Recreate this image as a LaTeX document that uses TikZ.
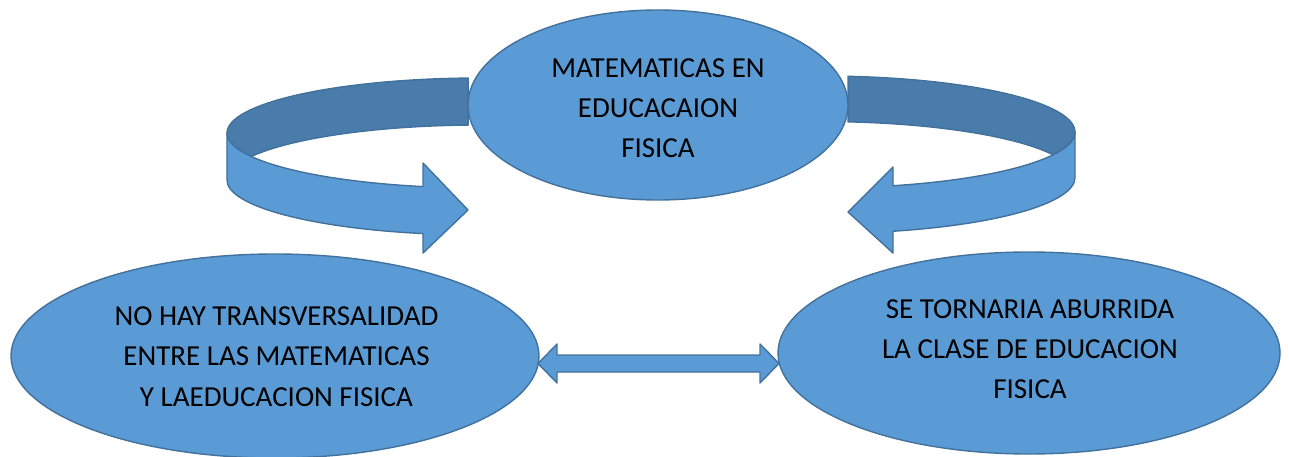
\documentclass[tikz,border=0pt]{standalone}
\usepackage{fontspec}
\setmainfont{Carlito}
\usetikzlibrary{shapes.geometric,calc}
\definecolor{fillblue}{HTML}{5B9BD5}
\definecolor{darkband}{HTML}{497CAA}
\definecolor{edgeblue}{HTML}{41719C}
\begin{document}
\begin{tikzpicture}[x=1pt,y=-1pt,
  shapestyle/.style={fill=fillblue,draw=edgeblue,line width=1.4pt,line join=round},
  bandstyle/.style={fill=darkband,draw=edgeblue,line width=1.4pt,line join=round},
  oval/.style={ellipse,shapestyle,inner sep=0pt},
  txt/.style={anchor=base,inner sep=0pt,text=black,font=\fontsize{29}{40}\selectfont}]
\useasboundingbox (0,0) rectangle (1289,457);

% left curved arrow (back band, then front band with head)
\path[bandstyle] (468.08,78.06)
  arc[start angle=267.3,end angle=154.7,x radius=253,y radius=55]
  arc[start angle=205.3,end angle=267.3,x radius=253,y radius=55] -- cycle;
\path[shapestyle] (227,133)
  arc[start angle=180,end angle=103.02,x radius=253,y radius=55]
  -- (423,163) -- (468,210) -- (423,253) -- (422.97,233.59)
  arc[start angle=103.02,end angle=180,x radius=253,y radius=55] -- cycle;

% right curved arrow
\path[bandstyle] (848.0,76.3)
  arc[start angle=275.9,end angle=384.0,x radius=253,y radius=56]
  arc[start angle=336.0,end angle=275.9,x radius=253,y radius=56] -- cycle;
\path[shapestyle] (1075,132)
  arc[start angle=0,end angle=73.7,x radius=253,y radius=56]
  -- (893,167) -- (848,212) -- (893,253) -- (893.0,231.25)
  arc[start angle=73.7,end angle=0,x radius=253,y radius=56] -- cycle;

% ellipses
\node[oval,minimum width=380pt,minimum height=190pt] (top) at (658,105) {};
\node[oval,minimum width=528pt,minimum height=204pt] (left) at (275,356) {};
\node[oval,minimum width=502pt,minimum height=202pt] (right) at (1029,353) {};

% texts
\node[txt] (top1) at (658,78) {MATEMATICAS EN};
\node[txt] (top2) at (658,118) {EDUCACAION};
\node[txt] (top3) at (658,158) {FISICA};
\node[txt] (left1) at (276.5,325) {NO HAY TRANSVERSALIDAD};
\node[txt] (left2) at (276.5,365.5) {ENTRE LAS MATEMATICAS};
\node[txt] (left3) at (276.5,406.5) {Y LAEDUCACION FISICA};
\node[txt] (right1) at (1030,318.5) {SE TORNARIA ABURRIDA};
\node[txt] (right2) at (1030,358.5) {LA CLASE DE EDUCACION};
\node[txt] (right3) at (1030,398.5) {FISICA};

% double arrow between the bottom ellipses
\coordinate (dl) at (538,363.5);
\coordinate (dr) at (779,363.5);
\path[shapestyle] (dl) -- ++(19,-19.5) -- ++(0,11) -- ($(dr)+(-19,-8.5)$) -- ++(0,-11) -- (dr)
  -- ++(-19,19.5) -- ++(0,-11) -- ($(dl)+(19,8.5)$) -- ++(0,11) -- cycle;
\end{tikzpicture}
\end{document}
